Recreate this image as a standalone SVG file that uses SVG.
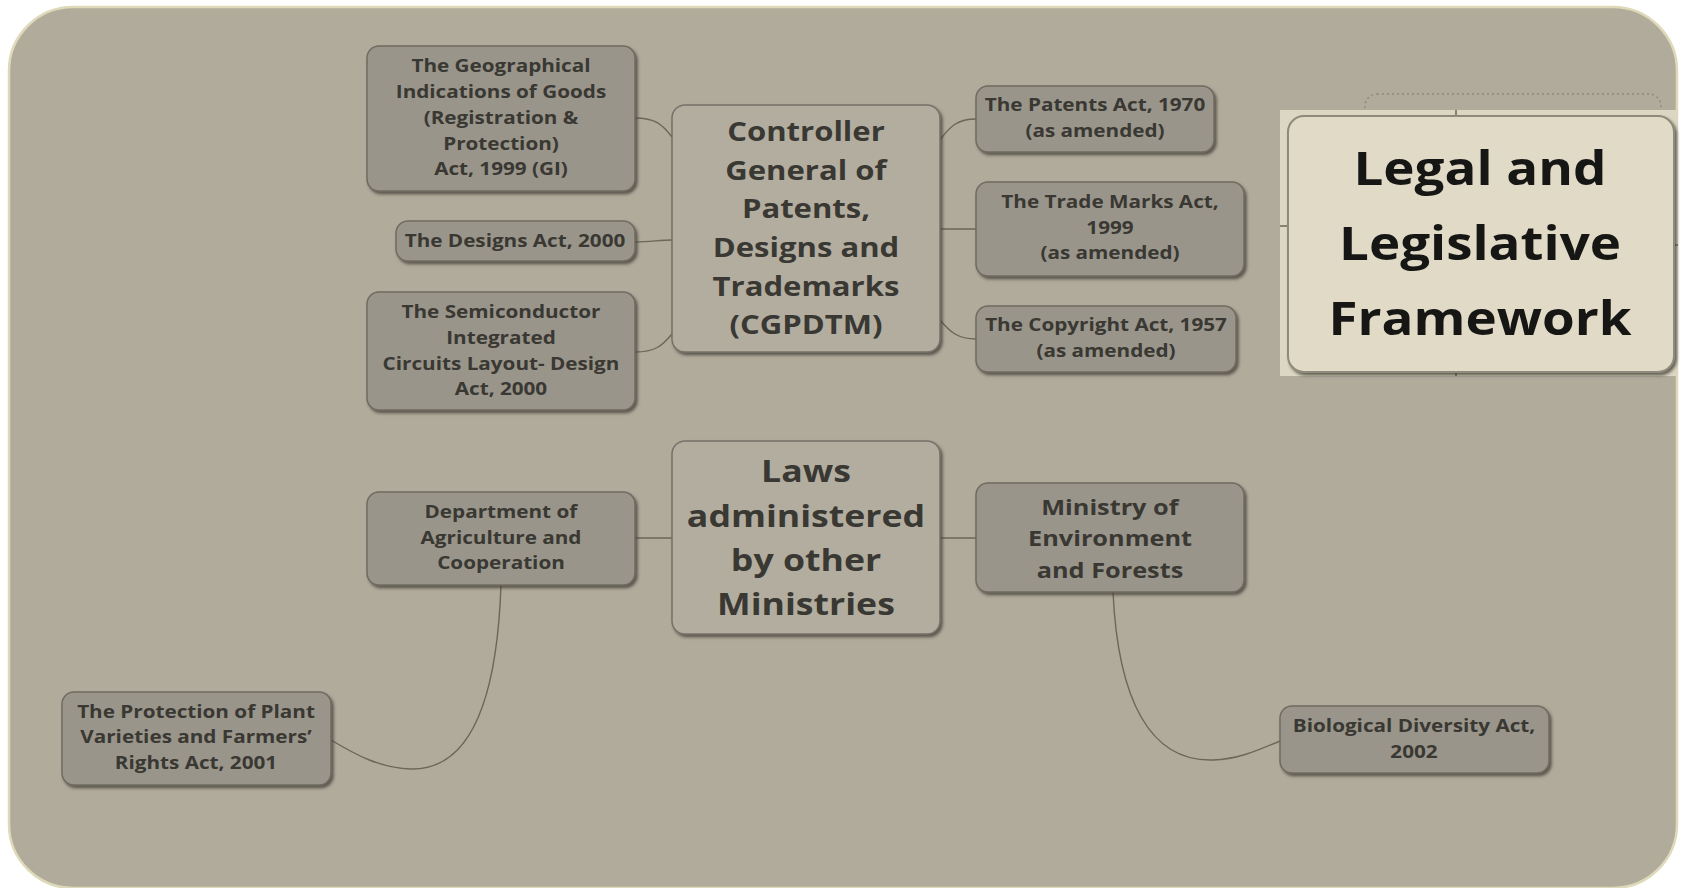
<svg xmlns="http://www.w3.org/2000/svg" width="1683" height="888" viewBox="0 0 1683 888">
<defs>
<filter id="sh" x="-10%" y="-10%" width="125%" height="130%">
<feDropShadow dx="2" dy="2.5" stdDeviation="1.6" flood-color="#3e3b33" flood-opacity="0.75"/>
</filter>
<style>
.bg{fill:#b1ab9c;stroke:#dedab9;stroke-width:2.5}
.leaf{fill:#99958a;stroke:#6f6b60;stroke-width:1.5;filter:url(#sh)}
.hub{fill:#b3ad9f;stroke:#76726a;stroke-width:1.5;filter:url(#sh)}
.root{fill:#e0dac6;stroke:#8e8a7c;stroke-width:2;filter:url(#sh)}
.patch{fill:#dcd7c2}
text{font-family:"Open Sans","Noto Sans","DejaVu Sans",sans-serif;font-weight:bold;text-anchor:middle;fill:#393833;transform-box:fill-box;transform-origin:center;transform:scaleX(1.15)}
.t16{font-size:18px}
.t21{font-size:22px}
.t26{font-size:27px}
.t32{font-size:31px}
.t54{font-size:46px;fill:#161614}
.conn path{fill:none;stroke:#6b6759;stroke-width:1.4}
.dot{fill:none;stroke:#8e897a;stroke-width:1.5;stroke-dasharray:2 3}
</style>
</defs>
<rect width="1683" height="888" fill="#ffffff"/>
<rect class="bg" x="9" y="7" width="1668" height="881" rx="64"/>

<g class="conn" id="connectors">
<path d="M635 118 C655 118 662 124 672 137"/>
<path d="M635 242 C650 242 660 240 672 240"/>
<path d="M635 352 C655 352 662 346 672 334"/>
<path d="M940 140 C950 126 958 119 976 119"/>
<path d="M940 229 L976 229"/>
<path d="M940 320 C950 332 958 339 976 339"/>
<path d="M635 538 L672 538"/>
<path d="M940 538 L976 538"/>
<path d="M501 585 C497 700 470 770 411 769 C380 768 356 755 331 740"/>
<path d="M1113 592 C1118 700 1150 762 1213 760 C1240 759 1258 750 1280 741"/>
</g>

<g id="gi">
<rect class="leaf" x="367" y="46" width="268" height="145" rx="12"/>
<text class="t16" x="501" y="72">The Geographical</text>
<text class="t16" x="501" y="98">Indications of Goods</text>
<text class="t16" x="501" y="124">(Registration &amp;</text>
<text class="t16" x="501" y="150">Protection)</text>
<text class="t16" x="501" y="175">Act, 1999 (GI)</text>
</g>
<g id="designs">
<rect class="leaf" x="396" y="221" width="239" height="40" rx="12"/>
<text class="t16" x="515" y="247">The Designs Act, 2000</text>
</g>
<g id="semiconductor">
<rect class="leaf" x="367" y="292" width="268" height="118" rx="12"/>
<text class="t16" x="501" y="318">The Semiconductor</text>
<text class="t16" x="501" y="344">Integrated</text>
<text class="t16" x="501" y="370">Circuits Layout- Design</text>
<text class="t16" x="501" y="395">Act, 2000</text>
</g>
<g id="cgpdtm">
<rect class="hub" x="672" y="105" width="268" height="247" rx="13"/>
<text class="t26" x="806" y="141">Controller</text>
<text class="t26" x="806" y="180">General of</text>
<text class="t26" x="806" y="218">Patents,</text>
<text class="t26" x="806" y="257">Designs and</text>
<text class="t26" x="806" y="296">Trademarks</text>
<text class="t26" x="806" y="334">(CGPDTM)</text>
</g>
<g id="patents">
<rect class="leaf" x="976" y="86" width="238" height="66" rx="12"/>
<text class="t16" x="1095" y="111">The Patents Act, 1970</text>
<text class="t16" x="1095" y="137">(as amended)</text>
</g>
<g id="trademarks">
<rect class="leaf" x="976" y="182" width="268" height="94" rx="12"/>
<text class="t16" x="1110" y="208">The Trade Marks Act,</text>
<text class="t16" x="1110" y="234">1999</text>
<text class="t16" x="1110" y="259">(as amended)</text>
</g>
<g id="copyright">
<rect class="leaf" x="976" y="306" width="260" height="66" rx="12"/>
<text class="t16" x="1106" y="331">The Copyright Act, 1957</text>
<text class="t16" x="1106" y="357">(as amended)</text>
</g>
<g id="root">
<rect class="dot" x="1365" y="94" width="296" height="60" rx="12"/>
<rect class="patch" x="1280" y="110" width="398" height="266"/>
<path d="M1456 110 v6 M1456 370 v6 M1280 226 h7 M1673 245 h5" stroke="#6b6759" stroke-width="1.5"/>
<rect class="root" x="1288" y="116" width="386" height="256" rx="16"/>
<text class="t54" x="1480" y="185">Legal and</text>
<text class="t54" x="1480" y="260">Legislative</text>
<text class="t54" x="1480" y="335">Framework</text>
</g>
<g id="laws">
<rect class="hub" x="672" y="441" width="268" height="193" rx="13"/>
<text class="t32" x="806" y="482">Laws</text>
<text class="t32" x="806" y="527">administered</text>
<text class="t32" x="806" y="571">by other</text>
<text class="t32" x="806" y="615">Ministries</text>
</g>
<g id="agriculture">
<rect class="leaf" x="367" y="492" width="268" height="93" rx="12"/>
<text class="t16" x="501" y="518">Department of</text>
<text class="t16" x="501" y="544">Agriculture and</text>
<text class="t16" x="501" y="569">Cooperation</text>
</g>
<g id="environment">
<rect class="leaf" x="976" y="483" width="268" height="109" rx="12"/>
<text class="t21" x="1110" y="515">Ministry of</text>
<text class="t21" x="1110" y="546">Environment</text>
<text class="t21" x="1110" y="578">and Forests</text>
</g>
<g id="plant">
<rect class="leaf" x="62" y="692" width="269" height="93" rx="12"/>
<text class="t16" x="196" y="718">The Protection of Plant</text>
<text class="t16" x="196" y="743">Varieties and Farmers’</text>
<text class="t16" x="196" y="769">Rights Act, 2001</text>
</g>
<g id="biodiversity">
<rect class="leaf" x="1280" y="706" width="269" height="67" rx="12"/>
<text class="t16" x="1414" y="732">Biological Diversity Act,</text>
<text class="t16" x="1414" y="758">2002</text>
</g>
</svg>
